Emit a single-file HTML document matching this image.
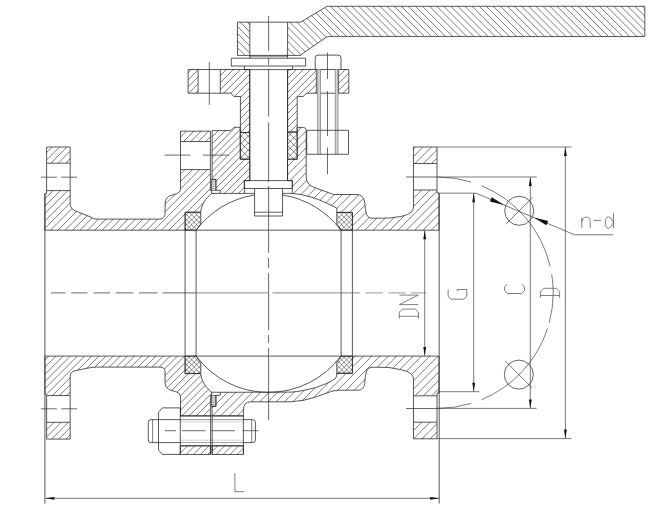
<!DOCTYPE html><html><head><meta charset="utf-8"><title>Ball valve</title><style>html,body{margin:0;padding:0;background:#fff;overflow:hidden;font-family:"Liberation Sans",sans-serif}</style></head><body><svg width="650" height="513" viewBox="0 0 650 513" style="display:block"><rect width="650" height="513" fill="#fff"/><defs><clipPath id="c1"><path d="M46.6,147L70.2,147L70.2,163.2L46.6,163.2Z"/></clipPath><clipPath id="c2"><path d="M46.6,190.6 L70.2,190.6 L70.2,203.8 C70.5,208 73,210.5 76.9,211.5 L90.8,217.1 Q93,218.8 96,219.1 L159.8,219.1 Q164.8,218.6 165,214.3 L165.2,202 Q165.5,198.5 168.5,196.6 Q170,195.6 171.8,195.2 L176.8,193.6 Q180.4,192.5 180.5,189.2 L180.5,169.6 L210.4,169.6 L210.4,190.3 L211.6,190.3 L211.6,193.6 C206,198 201.5,204 200.7,212.1 L185.1,212.1 L185.1,230.2 L44.9,230.2 L44.9,193.7 L46.6,193.7 Z"/></clipPath><clipPath id="c3"><path d="M180.5,131.2L210.4,131.2L210.4,141.5L180.5,141.5Z"/></clipPath><clipPath id="c4"><path d="M46.6,439.1L70.2,439.1L70.2,422.3L46.6,422.3Z"/></clipPath><clipPath id="c5"><path d="M46.6,395.5 L70.2,395.5 L70.2,376.4 C70.3,373 72,371.5 74.3,370.9 L87.4,368.2 Q92,367.2 96.2,367.1 L159.8,367.1 Q164.8,367.1 165,371.4 L165.2,383.7 Q165.5,387.2 168.5,389.1 Q170,390.1 171.8,390.5 L176.8,392.1 Q180.4,393.2 180.5,396.5 L180.5,415.9 L210.4,415.9 L210.4,395.4 L211.6,395.4 L211.6,392.1 C206,387.7 201.5,381.7 200.7,373.6 L185.1,373.6 L185.1,356.1 L44.9,356.1 L44.9,392.8 Q45.2,395.3 46.6,395.5 Z"/></clipPath><clipPath id="c6"><path d="M180.3,445.8L210.4,445.8L210.4,454.5L180.3,454.5Z"/></clipPath><clipPath id="c7"><path d="M212.1,130.6 L230.8,130.6 L234,127.3 L240.2,127.3 L240.2,159.2 L249.8,159.2 L249.8,180.6 L244.4,180.6 L244.4,193.4 L220.2,193.4 L220.2,190.3 L215.9,190.3 L215.9,179.4 L212.1,179.4 Z"/></clipPath><clipPath id="c8"><path d="M287.5,159.2 L297.2,159.2 L297.2,127.4 L303.4,127.4 Q306.2,127.4 306.2,130.6 L306.2,177 Q306.2,185.5 316.5,188.3 L333.6,194.5 L357,194.5 Q363,194.5 364.7,202 Q365.3,211 366.5,214.5 Q368,218.2 372,218.3 L389,218 L401.5,216.4 Q408,215 411.6,211.8 Q413.5,209.5 413.5,207 L413.5,190 L437,190 L437,193 L439,193 L439,230.2 L352.4,230.2 L352.4,212.4 L336.8,212.4 L336.8,208.2 Q332,205.5 327.4,203.5 Q320,200 311.8,197.3 Q302,194 292.3,193.4 L292.3,180.6 L287.5,180.6 Z"/></clipPath><clipPath id="c9"><path d="M413.5,147L437,147L437,163.5L413.5,163.5Z"/></clipPath><clipPath id="c10"><path d="M220.2,392.3 L291.5,392.1 Q300,391.6 315.6,387.6 Q326,384 331.2,381.3 Q336.7,378.2 336.7,376 L336.7,373.3 L352.4,373.3 L352.4,356.1 L439,356.1 L439,393 L437,393 L437,395.8 L413.5,395.8 L413.5,379 Q413.5,376.5 411.6,374.3 Q408,371 401.5,369.8 L389,367.5 L372,367.2 Q368,367.3 366.5,371 Q365.3,374.5 364.7,384 Q363.5,390.2 358,390.2 L339,390.2 Q334,390.5 331.2,391.5 L315.6,397 Q305,401 291,401.8 L251,401.8 Q243.4,401.8 243.4,410 L243.4,415.9 L212,415.9 L212,406.3 L215.9,406.3 L215.9,395.4 L220.2,395.4 Z"/></clipPath><clipPath id="c11"><path d="M413.5,422.2L437,422.2L437,438.8L413.5,438.8Z"/></clipPath><clipPath id="c12"><path d="M212,445.8L243.4,445.8L243.4,454.5L212,454.5Z"/></clipPath><clipPath id="c13"><path d="M188.1,69.5L198.1,69.5L198.1,93.2L188.1,93.2Z"/></clipPath><clipPath id="c14"><path d="M220.3,69.5 L249.7,69.5 L249.7,132.5 L240.4,132.5 L240.4,96.5 L234.1,96.5 L230.7,93.2 L220.3,93.2 Z"/></clipPath><clipPath id="c15"><path d="M287.6,69.5 L316.3,69.5 L316.3,93.2 L306.6,93.2 L303.1,96.5 L297.2,96.6 L297.2,132 L287.6,132 Z"/></clipPath><clipPath id="c16"><path d="M338.6,69.5L348.8,69.5L348.8,93.2L338.6,93.2Z"/></clipPath><clipPath id="c17"><path d="M240.4,132.5L249.7,132.5L249.7,159.2L240.4,159.2Z"/></clipPath><clipPath id="c18"><path d="M287.6,132L297.2,132L297.2,159.2L287.6,159.2Z"/></clipPath><clipPath id="c19"><path d="M185.2,212.4 L200.8,212.4 L200.8,223.9 Q198.3,226.8 196.1,230.2 L185.2,230.2 Z"/></clipPath><clipPath id="c20"><path d="M352.4,212.4 L336.8,212.4 L336.8,223.9 Q339.3,226.8 341.1,230.2 L352.4,230.2 Z"/></clipPath><clipPath id="c21"><path d="M185.2,373.4 L200.8,373.4 L200.8,362.4 Q198.3,359.5 196.1,356.1 L185.2,356.1 Z"/></clipPath><clipPath id="c22"><path d="M352.4,373.3 L336.8,373.3 L336.8,362.4 Q339.3,359.5 341.1,356.1 L352.4,356.1 Z"/></clipPath><clipPath id="c23"><path d="M237.5,22.2 L300.5,22.2 L327,6.3 L644.8,6.3 L644.8,36.5 L330,36.4 Q327.5,36.4 326,37.4 L302,54 L300.6,55.4 L237.5,55.4 Z M249.9,22.2 L249.9,55.4 L287.8,55.4 L287.8,22.2 Z" clip-rule="evenodd"/></clipPath></defs><path clip-path="url(#c1)" d="M38.40,146.00L20.20,164.20M45.80,146.00L27.60,164.20M53.20,146.00L35.00,164.20M60.60,146.00L42.40,164.20M68.00,146.00L49.80,164.20M75.40,146.00L57.20,164.20M82.80,146.00L64.60,164.20M90.20,146.00L72.00,164.20" stroke="#333" stroke-width="0.65" fill="none"/><path d="M46.6,147L70.2,147L70.2,163.2L46.6,163.2Z" stroke="#222" stroke-width="0.75" fill="none"/><path clip-path="url(#c2)" d="M38.00,168.60L-24.60,231.20M45.40,168.60L-17.20,231.20M52.80,168.60L-9.80,231.20M60.20,168.60L-2.40,231.20M67.60,168.60L5.00,231.20M75.00,168.60L12.40,231.20M82.40,168.60L19.80,231.20M89.80,168.60L27.20,231.20M97.20,168.60L34.60,231.20M104.60,168.60L42.00,231.20M112.00,168.60L49.40,231.20M119.40,168.60L56.80,231.20M126.80,168.60L64.20,231.20M134.20,168.60L71.60,231.20M141.60,168.60L79.00,231.20M149.00,168.60L86.40,231.20M156.40,168.60L93.80,231.20M163.80,168.60L101.20,231.20M171.20,168.60L108.60,231.20M178.60,168.60L116.00,231.20M186.00,168.60L123.40,231.20M193.40,168.60L130.80,231.20M200.80,168.60L138.20,231.20M208.20,168.60L145.60,231.20M215.60,168.60L153.00,231.20M223.00,168.60L160.40,231.20M230.40,168.60L167.80,231.20M237.80,168.60L175.20,231.20M245.20,168.60L182.60,231.20M252.60,168.60L190.00,231.20M260.00,168.60L197.40,231.20M267.40,168.60L204.80,231.20M274.80,168.60L212.20,231.20M282.20,168.60L219.60,231.20" stroke="#333" stroke-width="0.65" fill="none"/><path d="M46.6,190.6 L70.2,190.6 L70.2,203.8 C70.5,208 73,210.5 76.9,211.5 L90.8,217.1 Q93,218.8 96,219.1 L159.8,219.1 Q164.8,218.6 165,214.3 L165.2,202 Q165.5,198.5 168.5,196.6 Q170,195.6 171.8,195.2 L176.8,193.6 Q180.4,192.5 180.5,189.2 L180.5,169.6 L210.4,169.6 L210.4,190.3 L211.6,190.3 L211.6,193.6 C206,198 201.5,204 200.7,212.1 L185.1,212.1 L185.1,230.2 L44.9,230.2 L44.9,193.7 L46.6,193.7 Z" stroke="#222" stroke-width="0.75" fill="none"/><path clip-path="url(#c3)" d="M172.60,130.20L160.30,142.50M180.00,130.20L167.70,142.50M187.40,130.20L175.10,142.50M194.80,130.20L182.50,142.50M202.20,130.20L189.90,142.50M209.60,130.20L197.30,142.50M217.00,130.20L204.70,142.50M224.40,130.20L212.10,142.50" stroke="#333" stroke-width="0.65" fill="none"/><path d="M180.5,131.2L210.4,131.2L210.4,141.5L180.5,141.5Z" stroke="#222" stroke-width="0.75" fill="none"/><path clip-path="url(#c4)" d="M40.81,421.30L22.01,440.10M47.95,421.30L29.15,440.10M55.09,421.30L36.29,440.10M62.23,421.30L43.43,440.10M69.37,421.30L50.57,440.10M76.51,421.30L57.71,440.10M83.65,421.30L64.85,440.10M90.79,421.30L71.99,440.10" stroke="#333" stroke-width="0.65" fill="none"/><path d="M46.6,439.1L70.2,439.1L70.2,422.3L46.6,422.3Z" stroke="#222" stroke-width="0.75" fill="none"/><path clip-path="url(#c5)" d="M42.75,355.10L-19.05,416.90M49.89,355.10L-11.91,416.90M57.03,355.10L-4.77,416.90M64.17,355.10L2.37,416.90M71.31,355.10L9.51,416.90M78.45,355.10L16.65,416.90M85.59,355.10L23.79,416.90M92.73,355.10L30.93,416.90M99.87,355.10L38.07,416.90M107.01,355.10L45.21,416.90M114.15,355.10L52.35,416.90M121.29,355.10L59.49,416.90M128.43,355.10L66.63,416.90M135.57,355.10L73.77,416.90M142.71,355.10L80.91,416.90M149.85,355.10L88.05,416.90M156.99,355.10L95.19,416.90M164.13,355.10L102.33,416.90M171.27,355.10L109.47,416.90M178.41,355.10L116.61,416.90M185.55,355.10L123.75,416.90M192.69,355.10L130.89,416.90M199.83,355.10L138.03,416.90M206.97,355.10L145.17,416.90M214.11,355.10L152.31,416.90M221.25,355.10L159.45,416.90M228.39,355.10L166.59,416.90M235.53,355.10L173.73,416.90M242.67,355.10L180.87,416.90M249.81,355.10L188.01,416.90M256.95,355.10L195.15,416.90M264.09,355.10L202.29,416.90M271.23,355.10L209.43,416.90M278.37,355.10L216.57,416.90" stroke="#333" stroke-width="0.65" fill="none"/><path d="M46.6,395.5 L70.2,395.5 L70.2,376.4 C70.3,373 72,371.5 74.3,370.9 L87.4,368.2 Q92,367.2 96.2,367.1 L159.8,367.1 Q164.8,367.1 165,371.4 L165.2,383.7 Q165.5,387.2 168.5,389.1 Q170,390.1 171.8,390.5 L176.8,392.1 Q180.4,393.2 180.5,396.5 L180.5,415.9 L210.4,415.9 L210.4,395.4 L211.6,395.4 L211.6,392.1 C206,387.7 201.5,381.7 200.7,373.6 L185.1,373.6 L185.1,356.1 L44.9,356.1 L44.9,392.8 Q45.2,395.3 46.6,395.5 Z" stroke="#222" stroke-width="0.75" fill="none"/><path clip-path="url(#c6)" d="M174.39,444.80L163.69,455.50M181.53,444.80L170.83,455.50M188.67,444.80L177.97,455.50M195.81,444.80L185.11,455.50M202.95,444.80L192.25,455.50M210.09,444.80L199.39,455.50M217.23,444.80L206.53,455.50M224.37,444.80L213.67,455.50" stroke="#333" stroke-width="0.65" fill="none"/><path d="M180.3,445.8L210.4,445.8L210.4,454.5L180.3,454.5Z" stroke="#222" stroke-width="0.75" fill="none"/><path d="M46.6,163.2L46.6,190.6" stroke="#222" stroke-width="0.75" fill="none" /><path d="M46.6,422.3L46.6,395.5" stroke="#222" stroke-width="0.75" fill="none" /><path d="M70.2,163.2L70.2,190.6" stroke="#222" stroke-width="0.75" fill="none" /><path d="M70.2,422.3L70.2,395.5" stroke="#222" stroke-width="0.75" fill="none" /><path d="M180.5,141.5L180.5,169.6" stroke="#222" stroke-width="0.75" fill="none" /><path d="M210.4,141.5L210.4,169.6" stroke="#222" stroke-width="0.75" fill="none" /><path clip-path="url(#c7)" d="M208.85,126.30L140.75,194.40M215.75,126.30L147.65,194.40M222.65,126.30L154.55,194.40M229.55,126.30L161.45,194.40M236.45,126.30L168.35,194.40M243.35,126.30L175.25,194.40M250.25,126.30L182.15,194.40M257.15,126.30L189.05,194.40M264.05,126.30L195.95,194.40M270.95,126.30L202.85,194.40M277.85,126.30L209.75,194.40M284.75,126.30L216.65,194.40M291.65,126.30L223.55,194.40M298.55,126.30L230.45,194.40M305.45,126.30L237.35,194.40M312.35,126.30L244.25,194.40M319.25,126.30L251.15,194.40" stroke="#333" stroke-width="0.65" fill="none"/><path d="M212.1,130.6 L230.8,130.6 L234,127.3 L240.2,127.3 L240.2,159.2 L249.8,159.2 L249.8,180.6 L244.4,180.6 L244.4,193.4 L220.2,193.4 L220.2,190.3 L215.9,190.3 L215.9,179.4 L212.1,179.4 Z" stroke="#222" stroke-width="0.75" fill="none"/><path clip-path="url(#c8)" d="M286.05,126.40L181.25,231.20M294.35,126.40L189.55,231.20M302.65,126.40L197.85,231.20M310.95,126.40L206.15,231.20M319.25,126.40L214.45,231.20M327.55,126.40L222.75,231.20M335.85,126.40L231.05,231.20M344.15,126.40L239.35,231.20M352.45,126.40L247.65,231.20M360.75,126.40L255.95,231.20M369.05,126.40L264.25,231.20M377.35,126.40L272.55,231.20M385.65,126.40L280.85,231.20M393.95,126.40L289.15,231.20M402.25,126.40L297.45,231.20M410.55,126.40L305.75,231.20M418.85,126.40L314.05,231.20M427.15,126.40L322.35,231.20M435.45,126.40L330.65,231.20M443.75,126.40L338.95,231.20M452.05,126.40L347.25,231.20M460.35,126.40L355.55,231.20M468.65,126.40L363.85,231.20M476.95,126.40L372.15,231.20M485.25,126.40L380.45,231.20M493.55,126.40L388.75,231.20M501.85,126.40L397.05,231.20M510.15,126.40L405.35,231.20M518.45,126.40L413.65,231.20M526.75,126.40L421.95,231.20M535.05,126.40L430.25,231.20M543.35,126.40L438.55,231.20M551.65,126.40L446.85,231.20" stroke="#333" stroke-width="0.65" fill="none"/><path d="M287.5,159.2 L297.2,159.2 L297.2,127.4 L303.4,127.4 Q306.2,127.4 306.2,130.6 L306.2,177 Q306.2,185.5 316.5,188.3 L333.6,194.5 L357,194.5 Q363,194.5 364.7,202 Q365.3,211 366.5,214.5 Q368,218.2 372,218.3 L389,218 L401.5,216.4 Q408,215 411.6,211.8 Q413.5,209.5 413.5,207 L413.5,190 L437,190 L437,193 L439,193 L439,230.2 L352.4,230.2 L352.4,212.4 L336.8,212.4 L336.8,208.2 Q332,205.5 327.4,203.5 Q320,200 311.8,197.3 Q302,194 292.3,193.4 L292.3,180.6 L287.5,180.6 Z" stroke="#222" stroke-width="0.75" fill="none"/><path clip-path="url(#c9)" d="M407.55,146.00L389.05,164.50M415.85,146.00L397.35,164.50M424.15,146.00L405.65,164.50M432.45,146.00L413.95,164.50M440.75,146.00L422.25,164.50M449.05,146.00L430.55,164.50M457.35,146.00L438.85,164.50" stroke="#333" stroke-width="0.65" fill="none"/><path d="M413.5,147L437,147L437,163.5L413.5,163.5Z" stroke="#222" stroke-width="0.75" fill="none"/><path clip-path="url(#c10)" d="M206.75,355.10L144.95,416.90M215.05,355.10L153.25,416.90M223.35,355.10L161.55,416.90M231.65,355.10L169.85,416.90M239.95,355.10L178.15,416.90M248.25,355.10L186.45,416.90M256.55,355.10L194.75,416.90M264.85,355.10L203.05,416.90M273.15,355.10L211.35,416.90M281.45,355.10L219.65,416.90M289.75,355.10L227.95,416.90M298.05,355.10L236.25,416.90M306.35,355.10L244.55,416.90M314.65,355.10L252.85,416.90M322.95,355.10L261.15,416.90M331.25,355.10L269.45,416.90M339.55,355.10L277.75,416.90M347.85,355.10L286.05,416.90M356.15,355.10L294.35,416.90M364.45,355.10L302.65,416.90M372.75,355.10L310.95,416.90M381.05,355.10L319.25,416.90M389.35,355.10L327.55,416.90M397.65,355.10L335.85,416.90M405.95,355.10L344.15,416.90M414.25,355.10L352.45,416.90M422.55,355.10L360.75,416.90M430.85,355.10L369.05,416.90M439.15,355.10L377.35,416.90M447.45,355.10L385.65,416.90M455.75,355.10L393.95,416.90M464.05,355.10L402.25,416.90M472.35,355.10L410.55,416.90M480.65,355.10L418.85,416.90M488.95,355.10L427.15,416.90M497.25,355.10L435.45,416.90M505.55,355.10L443.75,416.90" stroke="#333" stroke-width="0.65" fill="none"/><path d="M220.2,392.3 L291.5,392.1 Q300,391.6 315.6,387.6 Q326,384 331.2,381.3 Q336.7,378.2 336.7,376 L336.7,373.3 L352.4,373.3 L352.4,356.1 L439,356.1 L439,393 L437,393 L437,395.8 L413.5,395.8 L413.5,379 Q413.5,376.5 411.6,374.3 Q408,371 401.5,369.8 L389,367.5 L372,367.2 Q368,367.3 366.5,371 Q365.3,374.5 364.7,384 Q363.5,390.2 358,390.2 L339,390.2 Q334,390.5 331.2,391.5 L315.6,397 Q305,401 291,401.8 L251,401.8 Q243.4,401.8 243.4,410 L243.4,415.9 L212,415.9 L212,406.3 L215.9,406.3 L215.9,395.4 L220.2,395.4 Z" stroke="#222" stroke-width="0.75" fill="none"/><path clip-path="url(#c11)" d="M406.25,421.20L387.65,439.80M414.55,421.20L395.95,439.80M422.85,421.20L404.25,439.80M431.15,421.20L412.55,439.80M439.45,421.20L420.85,439.80M447.75,421.20L429.15,439.80M456.05,421.20L437.45,439.80M464.35,421.20L445.75,439.80" stroke="#333" stroke-width="0.65" fill="none"/><path d="M413.5,422.2L437,422.2L437,438.8L413.5,438.8Z" stroke="#222" stroke-width="0.75" fill="none"/><path clip-path="url(#c12)" d="M204.75,444.80L194.05,455.50M211.75,444.80L201.05,455.50M218.75,444.80L208.05,455.50M225.75,444.80L215.05,455.50M232.75,444.80L222.05,455.50M239.75,444.80L229.05,455.50M246.75,444.80L236.05,455.50M253.75,444.80L243.05,455.50M260.75,444.80L250.05,455.50" stroke="#333" stroke-width="0.65" fill="none"/><path d="M212,445.8L243.4,445.8L243.4,454.5L212,454.5Z" stroke="#222" stroke-width="0.75" fill="none"/><path d="M413.5,163.5L413.5,190" stroke="#222" stroke-width="0.75" fill="none" /><path d="M413.5,395.8L413.5,422.2" stroke="#222" stroke-width="0.75" fill="none" /><path d="M437,163.5L437,190" stroke="#222" stroke-width="0.75" fill="none" /><path d="M437,395.8L437,422.2" stroke="#222" stroke-width="0.75" fill="none" /><path d="M211.4,179.4L215.9,179.4L215.9,190.3L211.4,190.3Z" stroke="#222" stroke-width="0.7" fill="none" /><path d="M211.4,181.22L214.70000000000002,181.22M211.4,183.03L214.70000000000002,183.03M211.4,184.85L214.70000000000002,184.85M211.4,186.67L214.70000000000002,186.67M211.4,188.48L214.70000000000002,188.48" stroke="#222" stroke-width="0.5" fill="none" /><path d="M211.4,395.4L215.9,395.4L215.9,406.3L211.4,406.3Z" stroke="#222" stroke-width="0.7" fill="none" /><path d="M211.4,397.22L214.70000000000002,397.22M211.4,399.03L214.70000000000002,399.03M211.4,400.85L214.70000000000002,400.85M211.4,402.67L214.70000000000002,402.67M211.4,404.48L214.70000000000002,404.48" stroke="#222" stroke-width="0.5" fill="none" /><path d="M211.6,193.5L220.2,193.4" stroke="#222" stroke-width="0.75" fill="none" /><path d="M211.6,392.2L220.2,392.3" stroke="#222" stroke-width="0.75" fill="none" /><path clip-path="url(#c13)" d="M185.40,68.50L159.70,94.20M192.40,68.50L166.70,94.20M199.40,68.50L173.70,94.20M206.40,68.50L180.70,94.20M213.40,68.50L187.70,94.20M220.40,68.50L194.70,94.20M227.40,68.50L201.70,94.20" stroke="#333" stroke-width="0.65" fill="none"/><path d="M188.1,69.5L198.1,69.5L198.1,93.2L188.1,93.2Z" stroke="#222" stroke-width="0.75" fill="none"/><path clip-path="url(#c14)" d="M213.40,68.50L148.40,133.50M220.40,68.50L155.40,133.50M227.40,68.50L162.40,133.50M234.40,68.50L169.40,133.50M241.40,68.50L176.40,133.50M248.40,68.50L183.40,133.50M255.40,68.50L190.40,133.50M262.40,68.50L197.40,133.50M269.40,68.50L204.40,133.50M276.40,68.50L211.40,133.50M283.40,68.50L218.40,133.50M290.40,68.50L225.40,133.50M297.40,68.50L232.40,133.50M304.40,68.50L239.40,133.50M311.40,68.50L246.40,133.50M318.40,68.50L253.40,133.50" stroke="#333" stroke-width="0.65" fill="none"/><path d="M220.3,69.5 L249.7,69.5 L249.7,132.5 L240.4,132.5 L240.4,96.5 L234.1,96.5 L230.7,93.2 L220.3,93.2 Z" stroke="#222" stroke-width="0.75" fill="none"/><path clip-path="url(#c15)" d="M283.40,68.50L218.90,133.00M290.40,68.50L225.90,133.00M297.40,68.50L232.90,133.00M304.40,68.50L239.90,133.00M311.40,68.50L246.90,133.00M318.40,68.50L253.90,133.00M325.40,68.50L260.90,133.00M332.40,68.50L267.90,133.00M339.40,68.50L274.90,133.00M346.40,68.50L281.90,133.00M353.40,68.50L288.90,133.00M360.40,68.50L295.90,133.00M367.40,68.50L302.90,133.00M374.40,68.50L309.90,133.00M381.40,68.50L316.90,133.00M388.40,68.50L323.90,133.00" stroke="#333" stroke-width="0.65" fill="none"/><path d="M287.6,69.5 L316.3,69.5 L316.3,93.2 L306.6,93.2 L303.1,96.5 L297.2,96.6 L297.2,132 L287.6,132 Z" stroke="#222" stroke-width="0.75" fill="none"/><path clip-path="url(#c16)" d="M332.40,68.50L306.70,94.20M339.40,68.50L313.70,94.20M346.40,68.50L320.70,94.20M353.40,68.50L327.70,94.20M360.40,68.50L334.70,94.20M367.40,68.50L341.70,94.20M374.40,68.50L348.70,94.20M381.40,68.50L355.70,94.20" stroke="#333" stroke-width="0.65" fill="none"/><path d="M338.6,69.5L348.8,69.5L348.8,93.2L338.6,93.2Z" stroke="#222" stroke-width="0.75" fill="none"/><path d="M198.1,69.5L220.3,69.5" stroke="#222" stroke-width="0.75" fill="none" /><path d="M198.1,93.2L220.3,93.2" stroke="#222" stroke-width="0.75" fill="none" /><path d="M316.3,69.5L338.6,69.5" stroke="#222" stroke-width="0.75" fill="none" /><path d="M316.3,93.2L338.6,93.2" stroke="#222" stroke-width="0.75" fill="none" /><path clip-path="url(#c17)" d="M238.80,131.50L210.10,160.20M245.80,131.50L217.10,160.20M252.80,131.50L224.10,160.20M259.80,131.50L231.10,160.20M266.80,131.50L238.10,160.20M273.80,131.50L245.10,160.20M280.80,131.50L252.10,160.20M208.60,131.50L237.30,160.20M215.60,131.50L244.30,160.20M222.60,131.50L251.30,160.20M229.60,131.50L258.30,160.20M236.60,131.50L265.30,160.20M243.60,131.50L272.30,160.20M250.60,131.50L279.30,160.20M257.60,131.50L286.30,160.20" stroke="#333" stroke-width="0.6" fill="none"/><path d="M240.4,132.5L249.7,132.5L249.7,159.2L240.4,159.2Z" stroke="#222" stroke-width="0.75" fill="none"/><path clip-path="url(#c18)" d="M286.50,131.00L257.30,160.20M293.50,131.00L264.30,160.20M300.50,131.00L271.30,160.20M307.50,131.00L278.30,160.20M314.50,131.00L285.30,160.20M321.50,131.00L292.30,160.20M328.50,131.00L299.30,160.20M252.00,131.00L281.20,160.20M259.00,131.00L288.20,160.20M266.00,131.00L295.20,160.20M273.00,131.00L302.20,160.20M280.00,131.00L309.20,160.20M287.00,131.00L316.20,160.20M294.00,131.00L323.20,160.20M301.00,131.00L330.20,160.20" stroke="#333" stroke-width="0.6" fill="none"/><path d="M287.6,132L297.2,132L297.2,159.2L287.6,159.2Z" stroke="#222" stroke-width="0.75" fill="none"/><path clip-path="url(#c19)" d="M179.90,211.40L160.10,231.20M184.90,211.40L165.10,231.20M189.90,211.40L170.10,231.20M194.90,211.40L175.10,231.20M199.90,211.40L180.10,231.20M204.90,211.40L185.10,231.20M209.90,211.40L190.10,231.20M214.90,211.40L195.10,231.20M219.90,211.40L200.10,231.20M224.90,211.40L205.10,231.20M163.20,211.40L183.00,231.20M168.20,211.40L188.00,231.20M173.20,211.40L193.00,231.20M178.20,211.40L198.00,231.20M183.20,211.40L203.00,231.20M188.20,211.40L208.00,231.20M193.20,211.40L213.00,231.20M198.20,211.40L218.00,231.20M203.20,211.40L223.00,231.20" stroke="#333" stroke-width="0.55" fill="none"/><path d="M185.2,212.4 L200.8,212.4 L200.8,223.9 Q198.3,226.8 196.1,230.2 L185.2,230.2 Z" stroke="#222" stroke-width="0.75" fill="none"/><path clip-path="url(#c20)" d="M334.90,211.40L315.10,231.20M339.90,211.40L320.10,231.20M344.90,211.40L325.10,231.20M349.90,211.40L330.10,231.20M354.90,211.40L335.10,231.20M359.90,211.40L340.10,231.20M364.90,211.40L345.10,231.20M369.90,211.40L350.10,231.20M374.90,211.40L355.10,231.20M313.20,211.40L333.00,231.20M318.20,211.40L338.00,231.20M323.20,211.40L343.00,231.20M328.20,211.40L348.00,231.20M333.20,211.40L353.00,231.20M338.20,211.40L358.00,231.20M343.20,211.40L363.00,231.20M348.20,211.40L368.00,231.20M353.20,211.40L373.00,231.20M358.20,211.40L378.00,231.20" stroke="#333" stroke-width="0.55" fill="none"/><path d="M352.4,212.4 L336.8,212.4 L336.8,223.9 Q339.3,226.8 341.1,230.2 L352.4,230.2 Z" stroke="#222" stroke-width="0.75" fill="none"/><path clip-path="url(#c21)" d="M181.20,355.10L161.90,374.40M186.20,355.10L166.90,374.40M191.20,355.10L171.90,374.40M196.20,355.10L176.90,374.40M201.20,355.10L181.90,374.40M206.20,355.10L186.90,374.40M211.20,355.10L191.90,374.40M216.20,355.10L196.90,374.40M221.20,355.10L201.90,374.40M161.90,355.10L181.20,374.40M166.90,355.10L186.20,374.40M171.90,355.10L191.20,374.40M176.90,355.10L196.20,374.40M181.90,355.10L201.20,374.40M186.90,355.10L206.20,374.40M191.90,355.10L211.20,374.40M196.90,355.10L216.20,374.40M201.90,355.10L221.20,374.40" stroke="#333" stroke-width="0.55" fill="none"/><path d="M185.2,373.4 L200.8,373.4 L200.8,362.4 Q198.3,359.5 196.1,356.1 L185.2,356.1 Z" stroke="#222" stroke-width="0.75" fill="none"/><path clip-path="url(#c22)" d="M331.20,355.10L312.00,374.30M336.20,355.10L317.00,374.30M341.20,355.10L322.00,374.30M346.20,355.10L327.00,374.30M351.20,355.10L332.00,374.30M356.20,355.10L337.00,374.30M361.20,355.10L342.00,374.30M366.20,355.10L347.00,374.30M371.20,355.10L352.00,374.30M376.20,355.10L357.00,374.30M311.90,355.10L331.10,374.30M316.90,355.10L336.10,374.30M321.90,355.10L341.10,374.30M326.90,355.10L346.10,374.30M331.90,355.10L351.10,374.30M336.90,355.10L356.10,374.30M341.90,355.10L361.10,374.30M346.90,355.10L366.10,374.30M351.90,355.10L371.10,374.30M356.90,355.10L376.10,374.30" stroke="#333" stroke-width="0.55" fill="none"/><path d="M352.4,373.3 L336.8,373.3 L336.8,362.4 Q339.3,359.5 341.1,356.1 L352.4,356.1 Z" stroke="#222" stroke-width="0.75" fill="none"/><path clip-path="url(#c23)" d="M187.60,5L239.60,57M194.68,5L246.68,57M201.76,5L253.76,57M208.84,5L260.84,57M215.92,5L267.92,57M223.00,5L275.00,57M230.08,5L282.08,57M237.16,5L289.16,57M244.24,5L296.24,57M251.32,5L303.32,57M258.40,5L310.40,57M265.48,5L317.48,57M272.56,5L324.56,57M279.64,5L331.64,57M286.72,5L338.72,57M293.80,5L345.80,57M300.88,5L352.88,57M307.96,5L359.96,57M315.04,5L367.04,57M322.12,5L374.12,57M329.20,5L381.20,57M336.28,5L388.28,57M343.36,5L395.36,57M350.44,5L402.44,57M357.52,5L409.52,57M364.60,5L416.60,57M371.68,5L423.68,57M378.76,5L430.76,57M385.84,5L437.84,57M392.92,5L444.92,57M400.00,5L452.00,57M407.08,5L459.08,57M414.16,5L466.16,57M421.24,5L473.24,57M428.32,5L480.32,57M435.40,5L487.40,57M442.48,5L494.48,57M449.56,5L501.56,57M456.64,5L508.64,57M463.72,5L515.72,57M470.80,5L522.80,57M477.88,5L529.88,57M484.96,5L536.96,57M492.04,5L544.04,57M499.12,5L551.12,57M506.20,5L558.20,57M513.28,5L565.28,57M520.36,5L572.36,57M527.44,5L579.44,57M534.52,5L586.52,57M541.60,5L593.60,57M548.68,5L600.68,57M555.76,5L607.76,57M562.84,5L614.84,57M569.92,5L621.92,57M577.00,5L629.00,57M584.08,5L636.08,57M591.16,5L643.16,57M598.24,5L650.24,57M605.32,5L657.32,57M612.40,5L664.40,57M619.48,5L671.48,57M626.56,5L678.56,57M633.64,5L685.64,57M640.72,5L692.72,57M647.80,5L699.80,57M654.88,5L706.88,57M661.96,5L713.96,57M669.04,5L721.04,57M676.12,5L728.12,57" stroke="#333" stroke-width="0.65" fill="none"/><path d="M237.5,22.2 L300.5,22.2 L327,6.3 L644.8,6.3 L644.8,36.5 L330,36.4 Q327.5,36.4 326,37.4 L302,54 L300.6,55.4 L237.5,55.4 Z" stroke="#222" stroke-width="0.75" fill="none" /><path d="M249.8,22.2L249.8,58.2" stroke="#222" stroke-width="0.75" fill="none" /><path d="M287.6,22.2L287.6,58.2" stroke="#222" stroke-width="0.75" fill="none" /><path d="M249.8,69.6L249.8,180.6" stroke="#222" stroke-width="0.75" fill="none" /><path d="M287.6,69.6L287.6,180.6" stroke="#222" stroke-width="0.75" fill="none" /><path d="M231.3,58.2L305.6,58.2L305.6,66L231.3,66Z" stroke="#222" stroke-width="0.75" fill="none" /><path d="M249.8,56.2L287.6,56.2" stroke="#222" stroke-width="0.6" fill="none" /><path d="M244.4,66.1L244.4,69.6" stroke="#222" stroke-width="0.75" fill="none" /><path d="M292.6,66.1L292.6,69.6" stroke="#222" stroke-width="0.75" fill="none" /><path d="M244.4,69.6L292.6,69.6" stroke="#222" stroke-width="0.75" fill="none" /><path d="M244.4,180.6L292.3,180.6L292.3,188.5L244.4,188.5Z" stroke="#222" stroke-width="0.75" fill="none" /><path d="M254.6,188.5 L254.6,216 L282.5,216 L282.5,188.5" stroke="#222" stroke-width="0.75" fill="none" /><path d="M254.6,212.2L282.5,212.2" stroke="#222" stroke-width="0.7" fill="none" /><path d="M196.1,230.23 A90.3,90.3 0 0 1 254.6,194.98" stroke="#222" stroke-width="0.75" fill="none" /><path d="M282.5,194.99 A90.3,90.3 0 0 1 341.1,230.50" stroke="#222" stroke-width="0.75" fill="none" /><path d="M196.1,356.07 A90.3,90.3 0 0 0 341.1,355.80" stroke="#222" stroke-width="0.75" fill="none" /><path d="M244.4,193.4L254.6,193.4" stroke="#222" stroke-width="0.75" fill="none" /><path d="M282.5,193.4L292.3,193.4" stroke="#222" stroke-width="0.75" fill="none" /><path d="M185.1,230.2L352.4,230.2" stroke="#222" stroke-width="0.75" fill="none" /><path d="M185.1,356.1L352.4,356.1" stroke="#222" stroke-width="0.75" fill="none" /><path d="M44.9,193.7L44.9,503.7" stroke="#222" stroke-width="0.75" fill="none" /><path d="M439.2,193L439.2,503.5" stroke="#222" stroke-width="0.75" fill="none" /><path d="M185.1,230.2L185.1,356.1" stroke="#222" stroke-width="0.75" fill="none" /><path d="M196.1,230.2L196.1,356.1" stroke="#222" stroke-width="0.75" fill="none" /><path d="M341.1,230.2L341.1,356.1" stroke="#222" stroke-width="0.75" fill="none" /><path d="M352.4,230.2L352.4,356.1" stroke="#222" stroke-width="0.75" fill="none" /><path d="M315.2,70 L315.2,58 Q315.2,55.1 318,55.1 L338.2,55.1 Q341,55.1 341,58 L341,70" stroke="#222" stroke-width="0.75" fill="none" /><rect x="317.7" y="69.5" width="2.8000000000000114" height="84.8" fill="#d4d4d4"/><path d="M317.7,69.5L317.7,154.3" stroke="#777" stroke-width="0.7" fill="none" /><path d="M320.5,69.5L320.5,154.3" stroke="#777" stroke-width="0.7" fill="none" /><rect x="335.3" y="69.5" width="2.6999999999999886" height="84.8" fill="#d4d4d4"/><path d="M335.3,69.5L335.3,154.3" stroke="#777" stroke-width="0.7" fill="none" /><path d="M338.0,69.5L338.0,154.3" stroke="#777" stroke-width="0.7" fill="none" /><path d="M306.7,130.3L348.5,130.3L348.5,154.3L306.7,154.3Z" stroke="#222" stroke-width="0.75" fill="none" /><path d="M180.3,407.9 L162.2,407.9 L158.5,412.5 L158.5,450 L162.2,454.4 L180.3,454.4" stroke="#222" stroke-width="0.75" fill="none" /><path d="M158.5,419.6L180.3,419.6" stroke="#222" stroke-width="0.75" fill="none" /><path d="M158.5,442.6L180.3,442.6" stroke="#222" stroke-width="0.75" fill="none" /><path d="M158.5,419.6 L151,419.6 Q148.3,419.6 148.3,422.3 L148.3,439.9 Q148.3,442.6 151,442.6 L158.5,442.6" stroke="#222" stroke-width="0.75" fill="none" /><path d="M152.6,419.6L152.6,442.6" stroke="#222" stroke-width="0.6" fill="none" /><path d="M180.3,415.9L243.4,415.9" stroke="#222" stroke-width="0.75" fill="none" /><path d="M180.3,445.8L243.4,445.8" stroke="#222" stroke-width="0.75" fill="none" /><path d="M180.3,419.6L243.4,419.6" stroke="#555" stroke-width="0.6" fill="none" /><path d="M180.3,442.6L243.4,442.6" stroke="#555" stroke-width="0.6" fill="none" /><path d="M180.3,421.8L243.4,421.8" stroke="#aaa" stroke-width="0.5" fill="none" /><path d="M180.3,440.2L243.4,440.2" stroke="#aaa" stroke-width="0.5" fill="none" /><path d="M180.3,407.9L180.3,454.5" stroke="#222" stroke-width="0.75" fill="none" /><path d="M210.6,415.9L210.6,454.5" stroke="#222" stroke-width="0.75" fill="none" /><path d="M212.2,415.9L212.2,454.5" stroke="#222" stroke-width="0.75" fill="none" /><path d="M243.4,415.9L243.4,454.5" stroke="#222" stroke-width="0.75" fill="none" /><path d="M243.4,419.6 L252.7,419.6 Q255.4,419.6 255.4,422.3 L255.4,439.9 Q255.4,442.6 252.7,442.6 L243.4,442.6" stroke="#222" stroke-width="0.75" fill="none" /><path d="M251.7,419.6L251.7,442.6" stroke="#222" stroke-width="0.6" fill="none" /><path d="M51,292.9 L65.5,292.9 M71.4,292.9 L87.5,292.9 M93.6,292.9 L110,292.9 M115.6,292.9 L133.4,292.9 M139,292.9 L157.6,292.9 M162.5,292.9 L196,292.9" stroke="#3a3a3a" stroke-width="0.75" fill="none" /><path d="M196,292.9 L268,292.9 M272.5,292.9 L360,292.9" stroke="#555" stroke-width="0.7" fill="none" /><path d="M365.4,292.9 L383,292.9 M388.5,292.9 L405.7,292.9 M410.8,292.9 L426.3,292.9" stroke="#777" stroke-width="0.75" fill="none" /><path d="M268.6,16L268.6,51" stroke="#3a3a3a" stroke-width="0.75" fill="none" /><path d="M268.6,58L268.6,65" stroke="#3a3a3a" stroke-width="0.75" fill="none" /><path d="M268.6,69.5L268.6,116.5" stroke="#3a3a3a" stroke-width="0.75" fill="none" /><path d="M268.6,122.5L268.6,182" stroke="#3a3a3a" stroke-width="0.75" fill="none" /><path d="M268.6,186L268.6,253" stroke="#3a3a3a" stroke-width="0.75" fill="none" /><path d="M268.6,258L268.6,268" stroke="#3a3a3a" stroke-width="0.75" fill="none" /><path d="M268.6,273L268.6,330" stroke="#3a3a3a" stroke-width="0.75" fill="none" /><path d="M268.6,335L268.6,343" stroke="#3a3a3a" stroke-width="0.75" fill="none" /><path d="M268.6,348L268.6,420" stroke="#3a3a3a" stroke-width="0.75" fill="none" /><path d="M41,177.2 L56.8,177.2 M61.2,177.2 L77.1,177.2" stroke="#3a3a3a" stroke-width="0.75" fill="none" /><path d="M41,408.8 L56.8,408.8 M61.2,408.8 L77.1,408.8" stroke="#3a3a3a" stroke-width="0.75" fill="none" /><path d="M406,177 L437,177 M406,408.5 L437,408.5" stroke="#3a3a3a" stroke-width="0.75" fill="none" /><path d="M164.6,155.1 L190.5,155.1 M203,155.1 L229,155.1" stroke="#3a3a3a" stroke-width="0.75" fill="none" /><path d="M209.3,62.2 L209.3,104.7" stroke="#3a3a3a" stroke-width="0.75" fill="none" /><path d="M327.5,52.5 L327.5,79 M327.5,91 L327.5,136 M327.5,147.5 L327.5,174" stroke="#3a3a3a" stroke-width="0.75" fill="none" /><path d="M164.9,430.7 L176,430.7 M182,430.7 L205.5,430.7 M211,430.7 L235,430.7 M242.5,430.7 L258.5,430.7" stroke="#3a3a3a" stroke-width="0.75" fill="none" /><path d="M424.7,230.2L424.7,356.1" stroke="#333" stroke-width="0.65" fill="none" /><path d="M424.70,230.20L426.10,239.20L423.30,239.20Z" fill="#111" stroke="none"/><path d="M424.70,356.10L423.30,347.10L426.10,347.10Z" fill="#111" stroke="none"/><path d="M473.7,193.2L473.7,391.7" stroke="#333" stroke-width="0.65" fill="none" /><path d="M473.70,193.20L475.10,202.20L472.30,202.20Z" fill="#111" stroke="none"/><path d="M473.70,391.70L472.30,382.70L475.10,382.70Z" fill="#111" stroke="none"/><path d="M530.3,177L530.3,408.4" stroke="#333" stroke-width="0.65" fill="none" /><path d="M530.30,177.00L531.70,186.00L528.90,186.00Z" fill="#111" stroke="none"/><path d="M530.30,408.40L528.90,399.40L531.70,399.40Z" fill="#111" stroke="none"/><path d="M565.4,147L565.4,438.6" stroke="#333" stroke-width="0.65" fill="none" /><path d="M565.40,147.00L566.80,156.00L564.00,156.00Z" fill="#111" stroke="none"/><path d="M565.40,438.60L564.00,429.60L566.80,429.60Z" fill="#111" stroke="none"/><path d="M437,147L571.5,147" stroke="#333" stroke-width="0.65" fill="none" /><path d="M437,438.6L571.5,438.6" stroke="#333" stroke-width="0.65" fill="none" /><path d="M437,177L536.8,177" stroke="#333" stroke-width="0.65" fill="none" /><path d="M437,408.4L536.5,408.4" stroke="#333" stroke-width="0.65" fill="none" /><path d="M439,193.2L476,193.2" stroke="#333" stroke-width="0.65" fill="none" /><path d="M437.7,391.7L479.2,391.7" stroke="#333" stroke-width="0.65" fill="none" /><path d="M45.3,498.3L439.2,498.3" stroke="#333" stroke-width="0.65" fill="none" /><path d="M45.30,498.30L54.30,496.90L54.30,499.70Z" fill="#111" stroke="none"/><path d="M439.20,498.30L430.20,499.70L430.20,496.90Z" fill="#111" stroke="none"/><path d="M437.5,177 A115.7,115.7 0 0 1 437.5,408.4" stroke="#333" stroke-width="0.65" fill="none" stroke-dasharray="34 11 110 8 49 6 100 11 60"/><circle cx="519.2" cy="210.8" r="14.5" fill="none" stroke="#222" stroke-width="0.7"/><path d="M505.70000000000005,224.3L532.7,197.3" stroke="#333" stroke-width="0.65" fill="none" /><circle cx="518.8" cy="374.6" r="14.5" fill="none" stroke="#222" stroke-width="0.7"/><path d="M505.29999999999995,361.1L532.3,388.1" stroke="#333" stroke-width="0.65" fill="none" /><path d="M476,193.2 L574.6,234.8 L613.3,234.8" stroke="#333" stroke-width="0.65" fill="none" /><path d="M504.20,205.00L489.90,201.61L491.75,197.18Z" fill="#111" stroke="none"/><path d="M533.90,217.50L548.20,220.89L546.35,225.32Z" fill="#111" stroke="none"/><path d="M234.9,473.2 L234.9,491.7 L244.3,491.7" stroke="#555" stroke-width="0.75" fill="none" /><path d="M0,0 L6.4,0 L9.5,-3.1 L9.5,-16.1 L6.4,-19.2 L0,-19.2 M2.3,0 L2.3,-19.2" transform="translate(418.5,318.6) rotate(-90)" stroke="#555" stroke-width="0.75" fill="none" stroke-linejoin="round"/><path d="M0,0 L0,-18.7 L9.5,0 L9.5,-18.7" transform="translate(418.2,304.6) rotate(-90)" stroke="#555" stroke-width="0.75" fill="none" stroke-linejoin="round"/><path d="M9.7,-18.7 L2.8,-18.7 L0,-15.6 L0,-3.1 L2.8,0 L9.7,0 L9.7,-9.6 L7.8,-9.6" transform="translate(466.8,299.2) rotate(-90)" stroke="#555" stroke-width="0.75" fill="none" stroke-linejoin="round"/><path d="M9.4,-17.2 L6.7,-19.9 L3,-19.9 L0,-17.2 L0,-3 L3,0 L6.7,0 L9.4,-3" transform="translate(524.5,293.5) rotate(-90)" stroke="#555" stroke-width="0.75" fill="none" stroke-linejoin="round"/><path d="M0,0 L6.4,0 L9.5,-3.1 L9.5,-16.1 L6.4,-19.2 L0,-19.2 M2.3,0 L2.3,-19.2" transform="translate(559.6,297.8) rotate(-90)" stroke="#555" stroke-width="0.75" fill="none" stroke-linejoin="round"/><path d="M581.8,217.6 L581.8,228.2 M581.8,222 Q582.5,217.2 586.5,217 Q590.2,217 590.2,221.5 L590.2,228.2" stroke="#555" stroke-width="0.75" fill="none" /><path d="M593.5,220.4 L601.2,220.4" stroke="#555" stroke-width="0.75" fill="none" /><path d="M613.5,213 L613.5,228.2 M613.5,222.5 Q611,217 608.5,216.8 Q605.4,217 605.4,222.5 Q605.4,228.4 608.5,228.5 Q611,228 613.5,222.5" stroke="#555" stroke-width="0.75" fill="none" /></svg></body></html>
